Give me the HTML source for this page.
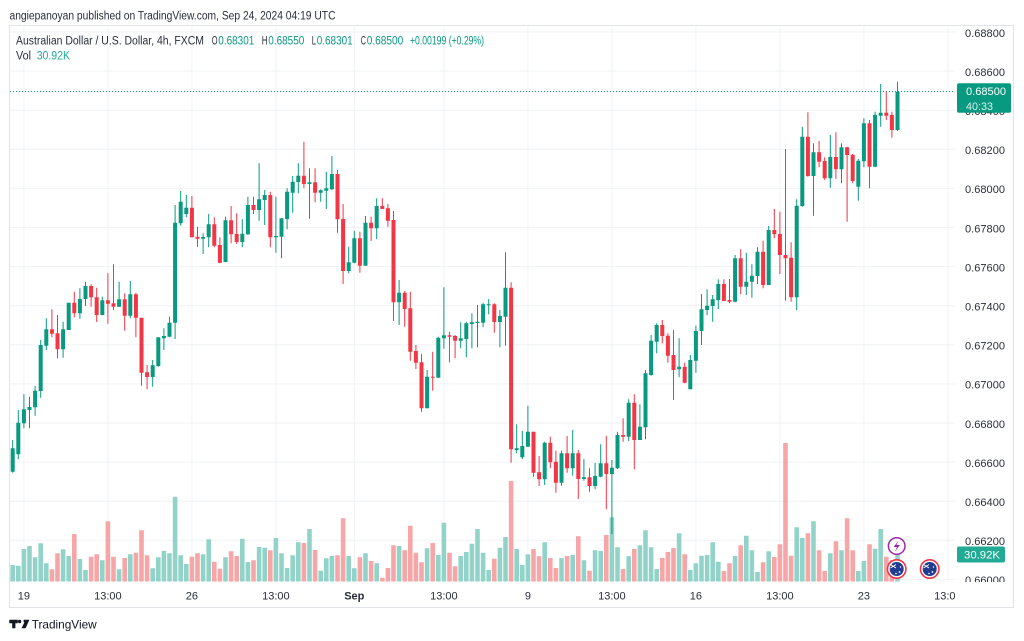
<!DOCTYPE html>
<html><head><meta charset="utf-8"><style>
html,body{margin:0;padding:0;background:#fff;}
body{width:1024px;height:641px;overflow:hidden;}
svg{display:block;}
text{font-family:"Liberation Sans",sans-serif;}
</style></head><body>
<svg width="1024" height="641" viewBox="0 0 1024 641" xmlns="http://www.w3.org/2000/svg">
<defs>
<clipPath id="pane"><rect x="10" y="26" width="945" height="556"/></clipPath>
<clipPath id="axis"><rect x="955" y="26" width="58" height="556"/></clipPath>
<clipPath id="taxis"><rect x="10" y="582" width="945" height="25"/></clipPath>
</defs>
<rect width="1024" height="641" fill="#fff"/>
<text x="9.5" y="19.5" font-size="11.5" fill="#2a2e39" textLength="326" lengthAdjust="spacingAndGlyphs">angiepanoyan published on TradingView.com, Sep 24, 2024 04:19 UTC</text>
<!-- frame -->
<path d="M9 25.5H1014M9.5 25V608M9 607.5H1014M1013.5 25V608" stroke="#e0e3eb" stroke-width="1" fill="none"/>
<g clip-path="url(#pane)">
<!-- grid -->
<path d="M10 32H955M10 71.1H955M10 110.2H955M10 149.3H955M10 188.4H955M10 227.5H955M10 266.6H955M10 305.7H955M10 344.8H955M10 383.9H955M10 423H955M10 462.1H955M10 501.2H955M10 540.3H955M10 579.4H955" stroke="#f0f2f5" stroke-width="1"/>
<path d="M23.9 26V582M107.9 26V582M191.9 26V582M275.9 26V582M354.3 26V582M443.9 26V582M527.9 26V582M611.9 26V582M695.9 26V582M779.9 26V582M863.9 26V582M947.9 26V582" stroke="#f0f2f5" stroke-width="1"/>
<!-- volume -->
<path fill="none" stroke="#92d3c9" stroke-width="4.6" d="M12.7 581.5V565M18.3 581.5V565.7M23.9 581.5V549M29.5 581.5V546M35.1 581.5V557.3M40.7 581.5V543.3M46.3 581.5V563.3M63.1 581.5V549.3M68.7 581.5V556M79.9 581.5V559M85.5 581.5V570M102.3 581.5V560.3M119.1 581.5V569.3M130.3 581.5V554.3M152.7 581.5V568.3M158.3 581.5V557.3M163.9 581.5V550.7M169.5 581.5V553.3M175.1 581.5V496.7M180.7 581.5V555.3M186.3 581.5V564M203.1 581.5V554.3M208.7 581.5V539.3M225.5 581.5V557.3M242.3 581.5V538.7M247.9 581.5V562M259.1 581.5V547M264.7 581.5V547.7M275.9 581.5V538M281.5 581.5V553.3M287.1 581.5V568M292.7 581.5V555.3M298.3 581.5V542.3M309.5 581.5V529M320.7 581.5V570.7M326.3 581.5V558.3M331.9 581.5V556M348.7 581.5V556M354.3 581.5V568.3M365.5 581.5V553.3M376.7 581.5V563.3M399.1 581.5V546M427.1 581.5V548.3M438.3 581.5V555M443.9 581.5V522.7M460.7 581.5V556M466.3 581.5V552M471.9 581.5V543.7M477.5 581.5V529M483.1 581.5V552.7M488.7 581.5V570M499.9 581.5V547.7M505.5 581.5V537M516.7 581.5V549M522.3 581.5V565M527.9 581.5V554.3M544.7 581.5V542.3M561.5 581.5V558M572.7 581.5V555M583.9 581.5V560.3M595.1 581.5V550.3M600.7 581.5V551M611.9 581.5V517.3M617.5 581.5V547.3M628.7 581.5V556.3M639.9 581.5V545.3M645.5 581.5V530.3M651.1 581.5V547.3M656.7 581.5V569M679.1 581.5V533.3M690.3 581.5V570M695.9 581.5V563.3M701.5 581.5V555.7M707.1 581.5V555M712.7 581.5V542.3M718.3 581.5V561.7M735.1 581.5V556M746.3 581.5V535.7M751.9 581.5V550.3M757.5 581.5V572M768.7 581.5V551.3M796.7 581.5V527.3M802.3 581.5V538M813.5 581.5V521.3M830.3 581.5V553.3M841.5 581.5V550.3M858.3 581.5V571M863.9 581.5V561M875.1 581.5V548.7M880.7 581.5V529M897.5 581.5V553"/>
<path fill="none" stroke="#f7a6a8" stroke-width="4.6" d="M51.9 581.5V569.3M57.5 581.5V553.3M74.3 581.5V534M91.1 581.5V556.7M96.7 581.5V554.3M107.9 581.5V521.3M113.5 581.5V556.7M124.7 581.5V558M135.9 581.5V552.7M141.5 581.5V530.3M147.1 581.5V555.3M191.9 581.5V556.7M197.5 581.5V553.3M214.3 581.5V561.7M219.9 581.5V568.7M231.1 581.5V551.3M236.7 581.5V556M253.5 581.5V560.3M270.3 581.5V550.3M303.9 581.5V543M315.1 581.5V550M337.5 581.5V555.3M343.1 581.5V518.3M359.9 581.5V557.3M371.1 581.5V561M382.3 581.5V577.7M387.9 581.5V568M393.5 581.5V545.3M404.7 581.5V550.3M410.3 581.5V525.7M415.9 581.5V552.7M421.5 581.5V562.3M432.7 581.5V543M449.5 581.5V552.7M455.1 581.5V566.3M494.3 581.5V558.7M511.1 581.5V481M533.5 581.5V549M539.1 581.5V556.3M550.3 581.5V558M555.9 581.5V568M567.1 581.5V556M578.3 581.5V536.3M589.5 581.5V570.7M606.3 581.5V535M623.1 581.5V569M634.3 581.5V549M662.3 581.5V558M667.9 581.5V552M673.5 581.5V548M684.7 581.5V554.3M723.9 581.5V571M729.5 581.5V563.3M740.7 581.5V545.3M763.1 581.5V562.3M774.3 581.5V557M779.9 581.5V544.3M785.5 581.5V443M791.1 581.5V555.7M807.9 581.5V533.3M819.1 581.5V550.3M824.7 581.5V571M835.9 581.5V541.3M847.1 581.5V518.3M852.7 581.5V550.3M869.5 581.5V544.3M886.3 581.5V556.7M891.9 581.5V560"/>
<!-- price line -->
<path d="M10 91.5H957" stroke="#089981" stroke-width="1" stroke-dasharray="1 2"/>
<!-- green wicks -->
<path fill="none" stroke="#089981" stroke-width="1" d="M12.7 440V472.7M18.3 410V459.3M23.9 394.3V428.3M29.5 396.7V428.3M35.1 386V415.7M40.7 340V397.7M46.3 318.3V350M63.1 321.7V357.7M68.7 302.7V330M79.9 288.3V318.7M85.5 281.7V306M102.3 296.7V315.3M119.1 281.7V307M130.3 281V318.3M152.7 360V386.7M158.3 337.3V366.7M163.9 328.3V350M169.5 316.7V337.3M175.1 205V339M180.7 191V225.7M186.3 195V217.3M203.1 233.3V254M208.7 214V247.3M225.5 216.7V262M242.3 219.3V247.3M247.9 196.7V235M259.1 163.3V220.7M264.7 190V225M275.9 196.7V252.7M281.5 218.3V258.3M287.1 188.3V229.3M292.7 176V212.7M298.3 163.3V193.3M309.5 168.3V218.7M320.7 189.3V201.7M326.3 171.7V209M331.9 156V190M348.7 246.7V273.3M354.3 230.7V263.3M365.5 216V265.7M376.7 198.3V239M399.1 280V325M427.1 370V408.3M438.3 336.7V377.7M443.9 287.3V348.7M460.7 322.3V348.3M466.3 321.7V357.3M471.9 313.3V348.3M477.5 305V347.3M483.1 302.7V327.3M488.7 299V314.3M499.9 310V347.3M505.5 252.3V345.7M516.7 424.3V453.3M522.3 431V459M527.9 405.7V446.7M544.7 441.7V485M561.5 450.7V485.7M572.7 430V475.7M583.9 459V480.7M595.1 462.7V489.3M600.7 444.3V477.3M611.9 460V534M617.5 431.7V469M628.7 399.3V441M639.9 404.3V440M645.5 370V439.3M651.1 335V375.7M656.7 323.3V353.3M679.1 338.3V377.3M690.3 355V389.3M695.9 325.7V372.7M701.5 294V345M707.1 289.3V315M712.7 295V321.7M718.3 279.3V309M735.1 255V302.3M746.3 252.7V295M751.9 264.3V297.7M757.5 247.3V284M768.7 226V285M796.7 199.3V310M802.3 126.7V206.7M813.5 143.3V215.7M830.3 135V187.7M841.5 143.3V183.3M858.3 159V200.7M863.9 118.3V167.3M875.1 111.7V167.3M880.7 84V126.7M897.5 81.7V130.7"/>
<!-- green bodies -->
<path fill="none" stroke="#089981" stroke-width="4" d="M12.7 448.3V471.7M18.3 422.7V454.3M23.9 409.3V423.3M29.5 407V410M35.1 390.7V407.3M40.7 345V391M46.3 329.3V345.7M63.1 329.3V349.3M68.7 302.7V330M79.9 299V313.3M85.5 286V299M102.3 300.3V315M119.1 299.3V306.7M130.3 294.3V315.7M152.7 365.3V377M158.3 337.3V366M163.9 336V338.3M169.5 322.7V336.7M175.1 222.7V322.7M180.7 201.7V223.3M186.3 207.7V214M203.1 237V238.7M208.7 224.3V237.3M225.5 220.3V262M242.3 233.7V242M247.9 205V234.3M259.1 199.3V210M264.7 195V200M275.9 236V237.3M281.5 218.3V236.7M287.1 191.7V219M292.7 181.7V192.7M298.3 175.7V182M309.5 182.3V184M320.7 190.3V192.7M326.3 188.3V190.7M331.9 174V189.3M348.7 262.3V271M354.3 238.3V262.7M365.5 222.7V265.7M376.7 206V228.3M399.1 292.7V302.3M427.1 376.7V408.3M438.3 337.7V377.7M443.9 335.3V338.3M460.7 338.3V340.7M466.3 323.3V339M471.9 322.3V324M477.5 321.7V323M483.1 304.3V322.7M488.7 304.3V305.3M499.9 316V322M505.5 287.7V316.7M516.7 448.3V450M522.3 446V457.3M527.9 431.7V446.7M544.7 442.7V479.3M561.5 453.3V482.7M572.7 453.3V468.3M583.9 477.3V479M595.1 476V486M600.7 463.3V476.7M611.9 467.7V474M617.5 435V468.3M628.7 402.7V436.7M639.9 426.7V440M645.5 373.3V427.3M651.1 340.7V375M656.7 325V341.7M679.1 366.7V369.3M690.3 360V389.3M695.9 331V360.7M701.5 309.3V331M707.1 305.7V310M712.7 299.3V306M718.3 284V300M735.1 258.3V301.7M746.3 281.7V286.7M751.9 275.7V281.7M757.5 251.7V276M768.7 230V285M796.7 205.7V297.3M802.3 136.7V206M813.5 152.3V176M830.3 157V178.3M841.5 147.3V169.3M858.3 160.7V186.7M863.9 123.3V161.3M875.1 115V166.7M880.7 112.7V115.7M897.5 91.7V130"/>
<!-- red wicks -->
<path fill="none" stroke="#f23645" stroke-width="1" d="M51.9 309.3V337.3M57.5 315V358.3M74.3 291.7V317.3M91.1 284.3V306.7M96.7 287.7V322M107.9 273.3V323.7M113.5 264.3V310M124.7 293.3V330.7M135.9 292.7V337.3M141.5 317.7V385.7M147.1 365V389.3M191.9 196V237.3M197.5 226.7V246.7M214.3 217.3V247.3M219.9 237.3V263.3M231.1 206V243.3M236.7 213.3V244M253.5 196.7V214M270.3 191.7V247.3M303.9 141.7V188.3M315.1 168.3V202.3M337.5 170V232.7M343.1 204V284M359.9 231.7V272.7M371.1 216.7V241M382.3 198.3V209M387.9 204V226.7M393.5 211V321M404.7 291V326.7M410.3 291.7V360.7M415.9 345V369M421.5 354.3V411.7M432.7 351.7V390.7M449.5 331.7V362.3M455.1 335V358.3M494.3 303.3V332.7M511.1 282.3V462.7M533.5 431.7V476.7M539.1 456V486M550.3 436.7V468.3M555.9 450.7V492.7M567.1 436V472.7M578.3 450V499M589.5 468.3V491.7M606.3 435.7V509.3M623.1 418.3V441.7M634.3 394.3V469.3M662.3 320V343.3M667.9 333.3V362.7M673.5 330V400M684.7 362.7V383.3M723.9 279.3V301M729.5 279V303.3M740.7 249.3V294M763.1 240.7V288.3M774.3 209V238.3M779.9 211.7V274M785.5 149V300.7M791.1 242.3V301.7M807.9 112.3V176.7M819.1 141V167.3M824.7 157.3V180M835.9 132.3V179M847.1 146.7V221.7M852.7 154V183.3M869.5 120V188.3M886.3 91.7V120M891.9 111.7V137.7"/>
<!-- red bodies -->
<path fill="none" stroke="#f23645" stroke-width="4" d="M51.9 329.3V333.7M57.5 333.3V349.3M74.3 302.7V313.3M91.1 286V297.3M96.7 297.3V315M107.9 300.3V303.7M113.5 303.3V306.7M124.7 299.3V315.7M135.9 294.3V317.7M141.5 317.7V372.7M147.1 372.3V377M191.9 207.7V237.3M197.5 236.7V238.7M214.3 224.3V245.7M219.9 245V262.7M231.1 220.3V234.3M236.7 234V242M253.5 205V210M270.3 195V237.3M303.9 175.7V184M315.1 182.3V192.7M337.5 174V219.3M343.1 219V271M359.9 238.3V265.7M371.1 222.7V228.3M382.3 206V209M387.9 208.3V220.7M393.5 220V302.3M404.7 292.7V309M410.3 308.3V351.7M415.9 351V362.7M421.5 362.3V408.3M432.7 376.7V377.7M449.5 335.3V336.7M455.1 336V340.7M494.3 304.3V322M511.1 287.7V449.3M533.5 431.7V472.7M539.1 472.3V479.3M550.3 442.7V462.3M555.9 461.7V482.7M567.1 453.3V468.3M578.3 453.3V479M589.5 477.3V486M606.3 463.3V474M623.1 435V436.7M634.3 402.7V440M662.3 325V336M667.9 335.7V355.7M673.5 355V370M684.7 366.7V382.7M723.9 284V301M729.5 300V301.7M740.7 258.3V286.7M763.1 251.7V285M774.3 230V234.3M779.9 234V255M785.5 255V258.3M791.1 257.7V297.3M807.9 136.7V176M819.1 152.3V161.7M824.7 161V178.3M835.9 157V169.3M847.1 147.3V155M852.7 154.7V181M869.5 123.3V166.7M886.3 112.7V115.7M891.9 115V130"/>
<!-- icons -->
<circle cx="896.7" cy="546" r="8.3" fill="#fff" stroke="#9c27b0" stroke-width="1.5"/>
<path d="M898.6 540.5L893.6 547H897L894.8 551.8L899.9 545H896.5Z" fill="#9c27b0"/>
<circle cx="896.7" cy="569" r="9.2" fill="#fff" stroke="#f23645" stroke-width="1.6"/>
<circle cx="896.7" cy="569" r="7" fill="#1f3c91"/>
<path d="M890.5 564.5L896 568M890.5 568L896 564.5" stroke="#fff" stroke-width="1"/>
<circle cx="899.5" cy="572" r="0.9" fill="#fff"/><circle cx="900.5" cy="567" r="0.7" fill="#fff"/><circle cx="896" cy="573.5" r="0.8" fill="#fff"/>
</g>
<circle cx="929.7" cy="569" r="9.2" fill="#fff" stroke="#f23645" stroke-width="1.6"/>
<circle cx="929.7" cy="569" r="7" fill="#1f3c91"/>
<path d="M923.5 564.5L929 568M923.5 568L929 564.5" stroke="#fff" stroke-width="1"/>
<circle cx="932.5" cy="572" r="0.9" fill="#fff"/><circle cx="933.5" cy="567" r="0.7" fill="#fff"/><circle cx="929" cy="573.5" r="0.8" fill="#fff"/>
<!-- legend -->
<text x="16" y="44.5" font-size="11.5" fill="#2a2e39" textLength="188" lengthAdjust="spacingAndGlyphs">Australian Dollar / U.S. Dollar, 4h, FXCM</text>
<text x="211.7" y="44.5" font-size="11.5" fill="#2a2e39" textLength="5.8" lengthAdjust="spacingAndGlyphs">O</text>
<text x="218.3" y="44.5" font-size="11.5" fill="#089981" textLength="36" lengthAdjust="spacingAndGlyphs">0.68301</text>
<text x="261.7" y="44.5" font-size="11.5" fill="#2a2e39" textLength="5.8" lengthAdjust="spacingAndGlyphs">H</text>
<text x="268.3" y="44.5" font-size="11.5" fill="#089981" textLength="36" lengthAdjust="spacingAndGlyphs">0.68550</text>
<text x="311.7" y="44.5" font-size="11.5" fill="#2a2e39" textLength="4.3" lengthAdjust="spacingAndGlyphs">L</text>
<text x="316.7" y="44.5" font-size="11.5" fill="#089981" textLength="36" lengthAdjust="spacingAndGlyphs">0.68301</text>
<text x="360.7" y="44.5" font-size="11.5" fill="#2a2e39" textLength="5.2" lengthAdjust="spacingAndGlyphs">C</text>
<text x="366.7" y="44.5" font-size="11.5" fill="#089981" textLength="36.6" lengthAdjust="spacingAndGlyphs">0.68500</text>
<text x="410" y="44.5" font-size="11.5" fill="#089981" textLength="74" lengthAdjust="spacingAndGlyphs">+0.00199 (+0.29%)</text>
<text x="16" y="59.5" font-size="11.5" fill="#2a2e39" textLength="15" lengthAdjust="spacingAndGlyphs">Vol</text>
<text x="36.7" y="59.5" font-size="11.5" fill="#22ab94" textLength="33.3" lengthAdjust="spacingAndGlyphs">30.92K</text>
<!-- price axis -->
<g clip-path="url(#axis)" font-size="11" fill="#2a2e39">
<text x="965" y="36.8" textLength="40" lengthAdjust="spacingAndGlyphs">0.68800</text>
<text x="965" y="75.9" textLength="40" lengthAdjust="spacingAndGlyphs">0.68600</text>
<text x="965" y="115" textLength="40" lengthAdjust="spacingAndGlyphs">0.68400</text>
<text x="965" y="154.1" textLength="40" lengthAdjust="spacingAndGlyphs">0.68200</text>
<text x="965" y="193.2" textLength="40" lengthAdjust="spacingAndGlyphs">0.68000</text>
<text x="965" y="232.3" textLength="40" lengthAdjust="spacingAndGlyphs">0.67800</text>
<text x="965" y="271.4" textLength="40" lengthAdjust="spacingAndGlyphs">0.67600</text>
<text x="965" y="310.5" textLength="40" lengthAdjust="spacingAndGlyphs">0.67400</text>
<text x="965" y="349.6" textLength="40" lengthAdjust="spacingAndGlyphs">0.67200</text>
<text x="965" y="388.7" textLength="40" lengthAdjust="spacingAndGlyphs">0.67000</text>
<text x="965" y="427.8" textLength="40" lengthAdjust="spacingAndGlyphs">0.66800</text>
<text x="965" y="466.9" textLength="40" lengthAdjust="spacingAndGlyphs">0.66600</text>
<text x="965" y="506" textLength="40" lengthAdjust="spacingAndGlyphs">0.66400</text>
<text x="965" y="545.1" textLength="40" lengthAdjust="spacingAndGlyphs">0.66200</text>
<text x="965" y="584.2" textLength="40" lengthAdjust="spacingAndGlyphs">0.66000</text>
</g>
<!-- price tag -->
<rect x="957" y="83.3" width="54" height="29.4" rx="2" fill="#089981"/>
<text x="966" y="95.2" font-size="11" fill="#fff" textLength="40" lengthAdjust="spacingAndGlyphs">0.68500</text>
<text x="966" y="110" font-size="11" fill="#fff" fill-opacity="0.85" textLength="27" lengthAdjust="spacingAndGlyphs">40:33</text>
<!-- volume tag -->
<rect x="957" y="546.5" width="48" height="16" rx="2" fill="#22ab94"/>
<text x="964" y="558.5" font-size="11" fill="#fff" textLength="36" lengthAdjust="spacingAndGlyphs">30.92K</text>
<!-- time axis -->
<g font-size="11" fill="#2a2e39" text-anchor="middle">
<text x="23.9" y="599.5">19</text>
<text x="107.9" y="599.5">13:00</text>
<text x="191.9" y="599.5">26</text>
<text x="275.9" y="599.5">13:00</text>
<text x="354.3" y="599.5" font-weight="bold">Sep</text>
<text x="443.9" y="599.5">13:00</text>
<text x="527.9" y="599.5">9</text>
<text x="611.9" y="599.5">13:00</text>
<text x="695.9" y="599.5">16</text>
<text x="779.9" y="599.5">13:00</text>
<text x="863.9" y="599.5">23</text>
</g>
<g clip-path="url(#taxis)"><text x="947.9" y="599.5" font-size="11" fill="#2a2e39" text-anchor="middle">13:00</text></g>
<!-- logo -->
<path d="M9.3 619.8H17.8V623.3H15.4V628.3H12.2V623.3H9.3Z" fill="#131722"/>
<circle cx="19.6" cy="621.5" r="1.7" fill="#131722"/>
<path d="M23.6 619.8H29.4L25.6 628.3H21.6L24.4 622.2H23.6Z" fill="#131722"/>
<text x="31.7" y="628.5" font-size="12" fill="#131722" textLength="65" lengthAdjust="spacingAndGlyphs">TradingView</text>
</svg>
</body></html>
